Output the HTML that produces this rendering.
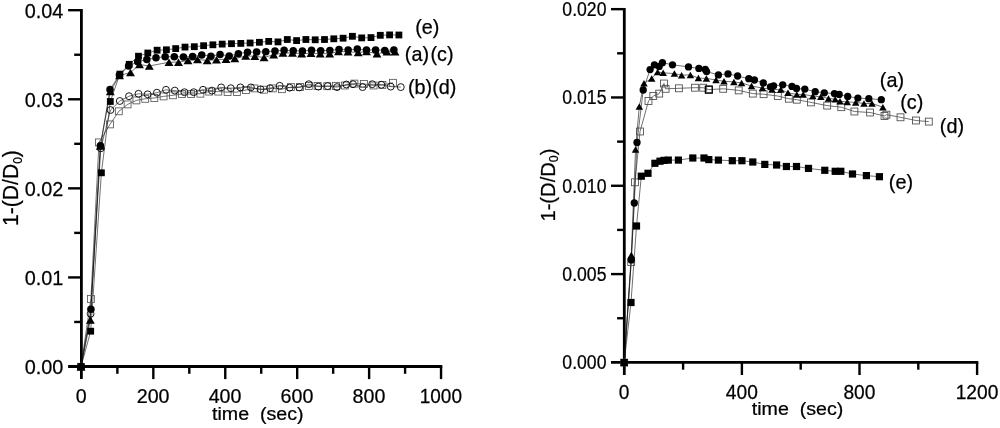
<!DOCTYPE html>
<html><head><meta charset="utf-8"><title>chart</title>
<style>html,body{margin:0;padding:0;background:#fff}svg{display:block}</style></head>
<body>
<svg width="1000" height="428" viewBox="0 0 1000 428" font-family="Liberation Sans, Arial, sans-serif" fill="#000">
<rect width="1000" height="428" fill="#fff"/>
<g stroke="#000" stroke-width="2.8" fill="none">
<path d="M81.4,9.00 V379.1"/>
<path d="M68.10,366.5 H442.3"/>
<path stroke-width="2.4" d="M117.37,366.5 v7.3"/>
<path stroke-width="2.4" d="M153.33,366.5 v12.6"/>
<path stroke-width="2.4" d="M189.30,366.5 v7.3"/>
<path stroke-width="2.4" d="M225.26,366.5 v12.6"/>
<path stroke-width="2.4" d="M261.23,366.5 v7.3"/>
<path stroke-width="2.4" d="M297.19,366.5 v12.6"/>
<path stroke-width="2.4" d="M333.16,366.5 v7.3"/>
<path stroke-width="2.4" d="M369.12,366.5 v12.6"/>
<path stroke-width="2.4" d="M405.09,366.5 v7.3"/>
<path stroke-width="2.4" d="M441.05,366.5 v12.6"/>
<path stroke-width="2.4" d="M81.4,321.96 h-7.2"/>
<path stroke-width="2.4" d="M81.4,277.43 h-13.3"/>
<path stroke-width="2.4" d="M81.4,232.89 h-7.2"/>
<path stroke-width="2.4" d="M81.4,188.35 h-13.3"/>
<path stroke-width="2.4" d="M81.4,143.81 h-7.2"/>
<path stroke-width="2.4" d="M81.4,99.28 h-13.3"/>
<path stroke-width="2.4" d="M81.4,54.74 h-7.2"/>
<path stroke-width="2.4" d="M81.4,10.20 h-13.3"/>
</g>
<g stroke="#000" stroke-width="2.8" fill="none">
<path d="M624.3,7.95 V375.0"/>
<path d="M611.0,362.4 H978.3"/>
<path stroke-width="2.4" d="M683.10,362.4 v7.3"/>
<path stroke-width="2.4" d="M741.90,362.4 v12.6"/>
<path stroke-width="2.4" d="M800.70,362.4 v7.3"/>
<path stroke-width="2.4" d="M859.50,362.4 v12.6"/>
<path stroke-width="2.4" d="M918.30,362.4 v7.3"/>
<path stroke-width="2.4" d="M977.10,362.4 v12.6"/>
<path stroke-width="2.4" d="M624.3,318.24 h-7.2"/>
<path stroke-width="2.4" d="M624.3,274.09 h-13.3"/>
<path stroke-width="2.4" d="M624.3,229.93 h-7.2"/>
<path stroke-width="2.4" d="M624.3,185.77 h-13.3"/>
<path stroke-width="2.4" d="M624.3,141.62 h-7.2"/>
<path stroke-width="2.4" d="M624.3,97.46 h-13.3"/>
<path stroke-width="2.4" d="M624.3,53.31 h-7.2"/>
<path stroke-width="2.4" d="M624.3,9.15 h-13.3"/>
</g>
<text transform="translate(63.30,373.90) scale(0.945,1)" font-size="21" text-anchor="end" stroke="#000" stroke-width="0.25" >0.00</text>
<text transform="translate(63.30,284.82) scale(0.945,1)" font-size="21" text-anchor="end" stroke="#000" stroke-width="0.25" >0.01</text>
<text transform="translate(63.30,195.75) scale(0.945,1)" font-size="21" text-anchor="end" stroke="#000" stroke-width="0.25" >0.02</text>
<text transform="translate(63.30,106.68) scale(0.945,1)" font-size="21" text-anchor="end" stroke="#000" stroke-width="0.25" >0.03</text>
<text transform="translate(63.30,17.60) scale(0.945,1)" font-size="21" text-anchor="end" stroke="#000" stroke-width="0.25" >0.04</text>
<text transform="translate(81.20,402.50) scale(0.936,1)" font-size="21" text-anchor="middle" stroke="#000" stroke-width="0.25" >0</text>
<text transform="translate(153.13,402.50) scale(0.936,1)" font-size="21" text-anchor="middle" stroke="#000" stroke-width="0.25" >200</text>
<text transform="translate(225.06,402.50) scale(0.936,1)" font-size="21" text-anchor="middle" stroke="#000" stroke-width="0.25" >400</text>
<text transform="translate(296.99,402.50) scale(0.936,1)" font-size="21" text-anchor="middle" stroke="#000" stroke-width="0.25" >600</text>
<text transform="translate(368.92,402.50) scale(0.936,1)" font-size="21" text-anchor="middle" stroke="#000" stroke-width="0.25" >800</text>
<text transform="translate(440.85,402.50) scale(0.905,1)" font-size="21" text-anchor="middle" stroke="#000" stroke-width="0.25" >1000</text>
<text transform="translate(606.50,369.40) scale(0.841,1)" font-size="21" text-anchor="end" stroke="#000" stroke-width="0.25" >0.000</text>
<text transform="translate(606.50,281.09) scale(0.841,1)" font-size="21" text-anchor="end" stroke="#000" stroke-width="0.25" >0.005</text>
<text transform="translate(606.50,192.77) scale(0.841,1)" font-size="21" text-anchor="end" stroke="#000" stroke-width="0.25" >0.010</text>
<text transform="translate(606.50,104.46) scale(0.841,1)" font-size="21" text-anchor="end" stroke="#000" stroke-width="0.25" >0.015</text>
<text transform="translate(606.50,16.15) scale(0.841,1)" font-size="21" text-anchor="end" stroke="#000" stroke-width="0.25" >0.020</text>
<text transform="translate(624.20,398.50) scale(0.914,1)" font-size="21" text-anchor="middle" stroke="#000" stroke-width="0.25" >0</text>
<text transform="translate(741.80,398.50) scale(0.914,1)" font-size="21" text-anchor="middle" stroke="#000" stroke-width="0.25" >400</text>
<text transform="translate(859.40,398.50) scale(0.914,1)" font-size="21" text-anchor="middle" stroke="#000" stroke-width="0.25" >800</text>
<text transform="translate(977.00,398.50) scale(0.914,1)" font-size="21" text-anchor="middle" stroke="#000" stroke-width="0.25" >1200</text>
<text transform="translate(212.00,420.20) scale(1.055,1)" font-size="18.6" text-anchor="start" stroke="#000" stroke-width="0.25" xml:space="preserve">time&#160;&#160;(sec)</text>
<text transform="translate(751.80,415.10) scale(1.055,1)" font-size="18.6" text-anchor="start" stroke="#000" stroke-width="0.25" xml:space="preserve">time&#160;&#160;(sec)</text>
<text transform="translate(18.30,226.00) rotate(-90) scale(0.96,1)" font-size="22" text-anchor="start" stroke="#000" stroke-width="0.25" >1-(D/D<tspan font-size="12.5" dy="3.5">0</tspan><tspan dy="-3.5">)</tspan></text>
<text transform="translate(554.80,221.60) rotate(-90)" font-size="20.2" text-anchor="start" stroke="#000" stroke-width="0.25" >1-(D/D<tspan font-size="12.5" dy="3.5">0</tspan><tspan dy="-3.5">)</tspan></text>
<path d="M81.0,366.8 L90.9,299.0 L99.0,142.4 L110.0,124.4 L118.8,111.3 L127.6,104.4 L136.4,100.4 L145.2,98.8 L154.3,98.0 L163.6,96.4 L172.9,95.3 L182.0,94.0 L191.1,94.0 L200.4,93.7 L209.2,91.6 L218.3,91.6 L227.6,92.1 L236.9,92.1 L246.0,90.0 L254.4,88.4 L264.0,89.7 L272.8,88.4 L281.9,89.2 L290.9,87.1 L300.0,87.0 L308.8,86.0 L317.6,86.0 L327.2,86.2 L336.0,86.0 L344.8,85.5 L354.4,83.6 L364.0,83.9 L373.6,85.5 L382.4,84.9 L393.0,82.8" fill="none" stroke="#111" stroke-width="0.6" stroke-linejoin="round"/>
<path d="M81.0,366.8 L90.6,313.8 L100.8,148.3 L110.5,110.0 L119.8,101.0 L129.0,96.2 L138.5,93.8 L147.6,94.3 L156.9,92.7 L166.0,89.8 L174.8,90.6 L184.4,92.2 L193.7,92.2 L203.0,89.8 L211.9,90.6 L221.2,87.4 L230.8,88.2 L240.4,87.4 L250.9,87.4 L260.5,89.3 L270.0,88.2 L279.7,85.8 L289.6,87.7 L299.2,87.4 L308.8,84.2 L318.4,86.6 L327.7,86.1 L337.0,87.1 L346.4,84.5 L353.0,84.2 L362.6,87.1 L372.2,84.2 L381.4,84.8 L390.7,86.6 L400.8,87.1" fill="none" stroke="#111" stroke-width="0.6" stroke-linejoin="round"/>
<path d="M81.0,366.8 L90.4,319.9 L100.3,146.0 L110.3,91.5 L119.5,75.6 L130.5,72.5 L139.5,64.5 L149.3,66.0 L169.0,62.2 L178.5,62.2 L188.0,60.5 L197.5,59.5 L207.2,60.4 L216.5,59.8 L226.0,59.2 L234.8,58.6 L245.7,56.0 L254.8,56.2 L264.0,57.5 L273.7,54.7 L283.0,53.0 L292.5,53.0 L301.7,53.7 L311.0,53.3 L320.2,53.7 L329.7,53.7 L338.5,51.5 L348.0,51.7 L358.2,52.5 L366.5,51.5 L377.0,53.7 L387.0,51.7 L395.0,51.7" fill="none" stroke="#111" stroke-width="0.6" stroke-linejoin="round"/>
<path d="M81.0,366.8 L90.9,309.3 L100.4,145.8 L110.0,89.5 L119.4,75.1 L128.6,66.1 L137.7,61.8 L146.8,59.4 L156.0,57.8 L165.2,56.7 L174.3,56.7 L183.4,57.0 L192.6,56.5 L201.8,54.9 L210.9,56.2 L220.1,54.6 L229.2,55.9 L238.4,53.8 L247.5,52.2 L256.6,52.0 L265.8,51.8 L274.9,51.0 L284.1,50.2 L293.2,50.7 L302.4,51.0 L311.6,50.2 L320.7,50.7 L329.9,50.4 L339.0,49.4 L348.2,49.9 L357.3,49.1 L366.5,49.9 L375.6,49.9 L384.8,50.4 L393.9,49.9" fill="none" stroke="#111" stroke-width="0.6" stroke-linejoin="round"/>
<path d="M81.0,366.8 L90.7,331.2 L101.4,172.8 L110.3,101.5 L119.9,74.1 L129.2,64.3 L138.5,56.2 L147.8,53.0 L157.1,50.2 L166.4,49.8 L175.7,48.6 L185.0,47.1 L194.3,46.7 L203.6,45.7 L212.9,44.8 L222.2,44.1 L231.5,43.7 L240.8,43.4 L250.1,43.0 L259.4,42.3 L268.7,41.4 L278.0,41.9 L287.3,39.5 L296.6,40.6 L305.9,39.5 L315.2,39.8 L324.5,39.5 L333.8,38.8 L343.1,38.2 L352.4,36.3 L361.7,37.9 L371.0,37.6 L380.3,35.3 L389.6,34.9 L398.9,35.0" fill="none" stroke="#111" stroke-width="0.6" stroke-linejoin="round"/>
<rect x="77.55" y="363.35" width="6.9" height="6.9" fill="none" stroke="#585858" stroke-width="0.85"/>
<rect x="87.45" y="295.55" width="6.9" height="6.9" fill="none" stroke="#585858" stroke-width="0.85"/>
<rect x="95.55" y="138.95" width="6.9" height="6.9" fill="none" stroke="#585858" stroke-width="0.85"/>
<rect x="106.55" y="120.95" width="6.9" height="6.9" fill="none" stroke="#585858" stroke-width="0.85"/>
<rect x="115.35" y="107.85" width="6.9" height="6.9" fill="none" stroke="#585858" stroke-width="0.85"/>
<rect x="124.15" y="100.95" width="6.9" height="6.9" fill="none" stroke="#585858" stroke-width="0.85"/>
<rect x="132.95" y="96.95" width="6.9" height="6.9" fill="none" stroke="#585858" stroke-width="0.85"/>
<rect x="141.75" y="95.35" width="6.9" height="6.9" fill="none" stroke="#585858" stroke-width="0.85"/>
<rect x="150.85" y="94.55" width="6.9" height="6.9" fill="none" stroke="#585858" stroke-width="0.85"/>
<rect x="160.15" y="92.95" width="6.9" height="6.9" fill="none" stroke="#585858" stroke-width="0.85"/>
<rect x="169.45" y="91.85" width="6.9" height="6.9" fill="none" stroke="#585858" stroke-width="0.85"/>
<rect x="178.55" y="90.55" width="6.9" height="6.9" fill="none" stroke="#585858" stroke-width="0.85"/>
<rect x="187.65" y="90.55" width="6.9" height="6.9" fill="none" stroke="#585858" stroke-width="0.85"/>
<rect x="196.95" y="90.25" width="6.9" height="6.9" fill="none" stroke="#585858" stroke-width="0.85"/>
<rect x="205.75" y="88.15" width="6.9" height="6.9" fill="none" stroke="#585858" stroke-width="0.85"/>
<rect x="214.85" y="88.15" width="6.9" height="6.9" fill="none" stroke="#585858" stroke-width="0.85"/>
<rect x="224.15" y="88.65" width="6.9" height="6.9" fill="none" stroke="#585858" stroke-width="0.85"/>
<rect x="233.45" y="88.65" width="6.9" height="6.9" fill="none" stroke="#585858" stroke-width="0.85"/>
<rect x="242.55" y="86.55" width="6.9" height="6.9" fill="none" stroke="#585858" stroke-width="0.85"/>
<rect x="250.95" y="84.95" width="6.9" height="6.9" fill="none" stroke="#585858" stroke-width="0.85"/>
<rect x="260.55" y="86.25" width="6.9" height="6.9" fill="none" stroke="#585858" stroke-width="0.85"/>
<rect x="269.35" y="84.95" width="6.9" height="6.9" fill="none" stroke="#585858" stroke-width="0.85"/>
<rect x="278.45" y="85.75" width="6.9" height="6.9" fill="none" stroke="#585858" stroke-width="0.85"/>
<rect x="287.45" y="83.65" width="6.9" height="6.9" fill="none" stroke="#585858" stroke-width="0.85"/>
<rect x="296.55" y="83.55" width="6.9" height="6.9" fill="none" stroke="#585858" stroke-width="0.85"/>
<rect x="305.35" y="82.55" width="6.9" height="6.9" fill="none" stroke="#585858" stroke-width="0.85"/>
<rect x="314.15" y="82.55" width="6.9" height="6.9" fill="none" stroke="#585858" stroke-width="0.85"/>
<rect x="323.75" y="82.75" width="6.9" height="6.9" fill="none" stroke="#585858" stroke-width="0.85"/>
<rect x="332.55" y="82.55" width="6.9" height="6.9" fill="none" stroke="#585858" stroke-width="0.85"/>
<rect x="341.35" y="82.05" width="6.9" height="6.9" fill="none" stroke="#585858" stroke-width="0.85"/>
<rect x="350.95" y="80.15" width="6.9" height="6.9" fill="none" stroke="#585858" stroke-width="0.85"/>
<rect x="360.55" y="80.45" width="6.9" height="6.9" fill="none" stroke="#585858" stroke-width="0.85"/>
<rect x="370.15" y="82.05" width="6.9" height="6.9" fill="none" stroke="#585858" stroke-width="0.85"/>
<rect x="378.95" y="81.45" width="6.9" height="6.9" fill="none" stroke="#585858" stroke-width="0.85"/>
<rect x="389.55" y="79.35" width="6.9" height="6.9" fill="none" stroke="#585858" stroke-width="0.85"/>
<circle cx="81.00" cy="366.80" r="3.45" fill="none" stroke="#000" stroke-width="0.9"/>
<circle cx="90.60" cy="313.80" r="3.45" fill="none" stroke="#000" stroke-width="0.9"/>
<circle cx="100.80" cy="148.30" r="3.45" fill="none" stroke="#000" stroke-width="0.9"/>
<circle cx="110.50" cy="110.00" r="3.45" fill="none" stroke="#000" stroke-width="0.9"/>
<circle cx="119.80" cy="101.00" r="3.45" fill="none" stroke="#000" stroke-width="0.9"/>
<circle cx="129.00" cy="96.20" r="3.45" fill="none" stroke="#000" stroke-width="0.9"/>
<circle cx="138.50" cy="93.80" r="3.45" fill="none" stroke="#000" stroke-width="0.9"/>
<circle cx="147.60" cy="94.30" r="3.45" fill="none" stroke="#000" stroke-width="0.9"/>
<circle cx="156.90" cy="92.70" r="3.45" fill="none" stroke="#000" stroke-width="0.9"/>
<circle cx="166.00" cy="89.80" r="3.45" fill="none" stroke="#000" stroke-width="0.9"/>
<circle cx="174.80" cy="90.60" r="3.45" fill="none" stroke="#000" stroke-width="0.9"/>
<circle cx="184.40" cy="92.20" r="3.45" fill="none" stroke="#000" stroke-width="0.9"/>
<circle cx="193.70" cy="92.20" r="3.45" fill="none" stroke="#000" stroke-width="0.9"/>
<circle cx="203.00" cy="89.80" r="3.45" fill="none" stroke="#000" stroke-width="0.9"/>
<circle cx="211.90" cy="90.60" r="3.45" fill="none" stroke="#000" stroke-width="0.9"/>
<circle cx="221.20" cy="87.40" r="3.45" fill="none" stroke="#000" stroke-width="0.9"/>
<circle cx="230.80" cy="88.20" r="3.45" fill="none" stroke="#000" stroke-width="0.9"/>
<circle cx="240.40" cy="87.40" r="3.45" fill="none" stroke="#000" stroke-width="0.9"/>
<circle cx="250.90" cy="87.40" r="3.45" fill="none" stroke="#000" stroke-width="0.9"/>
<circle cx="260.50" cy="89.30" r="3.45" fill="none" stroke="#000" stroke-width="0.9"/>
<circle cx="270.00" cy="88.20" r="3.45" fill="none" stroke="#000" stroke-width="0.9"/>
<circle cx="279.70" cy="85.80" r="3.45" fill="none" stroke="#000" stroke-width="0.9"/>
<circle cx="289.60" cy="87.70" r="3.45" fill="none" stroke="#000" stroke-width="0.9"/>
<circle cx="299.20" cy="87.40" r="3.45" fill="none" stroke="#000" stroke-width="0.9"/>
<circle cx="308.80" cy="84.20" r="3.45" fill="none" stroke="#000" stroke-width="0.9"/>
<circle cx="318.40" cy="86.60" r="3.45" fill="none" stroke="#000" stroke-width="0.9"/>
<circle cx="327.70" cy="86.10" r="3.45" fill="none" stroke="#000" stroke-width="0.9"/>
<circle cx="337.00" cy="87.10" r="3.45" fill="none" stroke="#000" stroke-width="0.9"/>
<circle cx="346.40" cy="84.50" r="3.45" fill="none" stroke="#000" stroke-width="0.9"/>
<circle cx="353.00" cy="84.20" r="3.45" fill="none" stroke="#000" stroke-width="0.9"/>
<circle cx="362.60" cy="87.10" r="3.45" fill="none" stroke="#000" stroke-width="0.9"/>
<circle cx="372.20" cy="84.20" r="3.45" fill="none" stroke="#000" stroke-width="0.9"/>
<circle cx="381.40" cy="84.80" r="3.45" fill="none" stroke="#000" stroke-width="0.9"/>
<circle cx="390.70" cy="86.60" r="3.45" fill="none" stroke="#000" stroke-width="0.9"/>
<circle cx="400.80" cy="87.10" r="3.45" fill="none" stroke="#000" stroke-width="0.9"/>
<path d="M81.00,363.05 L85.45,370.55 L76.55,370.55Z" fill="#000"/>
<path d="M90.40,316.15 L94.85,323.65 L85.95,323.65Z" fill="#000"/>
<path d="M100.30,142.25 L104.75,149.75 L95.85,149.75Z" fill="#000"/>
<path d="M110.30,87.75 L114.75,95.25 L105.85,95.25Z" fill="#000"/>
<path d="M119.50,71.85 L123.95,79.35 L115.05,79.35Z" fill="#000"/>
<path d="M130.50,68.75 L134.95,76.25 L126.05,76.25Z" fill="#000"/>
<path d="M139.50,60.75 L143.95,68.25 L135.05,68.25Z" fill="#000"/>
<path d="M149.30,62.25 L153.75,69.75 L144.85,69.75Z" fill="#000"/>
<path d="M169.00,58.45 L173.45,65.95 L164.55,65.95Z" fill="#000"/>
<path d="M178.50,58.45 L182.95,65.95 L174.05,65.95Z" fill="#000"/>
<path d="M188.00,56.75 L192.45,64.25 L183.55,64.25Z" fill="#000"/>
<path d="M197.50,55.75 L201.95,63.25 L193.05,63.25Z" fill="#000"/>
<path d="M207.20,56.65 L211.65,64.15 L202.75,64.15Z" fill="#000"/>
<path d="M216.50,56.05 L220.95,63.55 L212.05,63.55Z" fill="#000"/>
<path d="M226.00,55.45 L230.45,62.95 L221.55,62.95Z" fill="#000"/>
<path d="M234.80,54.85 L239.25,62.35 L230.35,62.35Z" fill="#000"/>
<path d="M245.70,52.25 L250.15,59.75 L241.25,59.75Z" fill="#000"/>
<path d="M254.80,52.45 L259.25,59.95 L250.35,59.95Z" fill="#000"/>
<path d="M264.00,53.75 L268.45,61.25 L259.55,61.25Z" fill="#000"/>
<path d="M273.70,50.95 L278.15,58.45 L269.25,58.45Z" fill="#000"/>
<path d="M283.00,49.25 L287.45,56.75 L278.55,56.75Z" fill="#000"/>
<path d="M292.50,49.25 L296.95,56.75 L288.05,56.75Z" fill="#000"/>
<path d="M301.70,49.95 L306.15,57.45 L297.25,57.45Z" fill="#000"/>
<path d="M311.00,49.55 L315.45,57.05 L306.55,57.05Z" fill="#000"/>
<path d="M320.20,49.95 L324.65,57.45 L315.75,57.45Z" fill="#000"/>
<path d="M329.70,49.95 L334.15,57.45 L325.25,57.45Z" fill="#000"/>
<path d="M338.50,47.75 L342.95,55.25 L334.05,55.25Z" fill="#000"/>
<path d="M348.00,47.95 L352.45,55.45 L343.55,55.45Z" fill="#000"/>
<path d="M358.20,48.75 L362.65,56.25 L353.75,56.25Z" fill="#000"/>
<path d="M366.50,47.75 L370.95,55.25 L362.05,55.25Z" fill="#000"/>
<path d="M377.00,49.95 L381.45,57.45 L372.55,57.45Z" fill="#000"/>
<path d="M387.00,47.95 L391.45,55.45 L382.55,55.45Z" fill="#000"/>
<path d="M395.00,47.95 L399.45,55.45 L390.55,55.45Z" fill="#000"/>
<circle cx="81.00" cy="366.80" r="3.75" fill="#000"/>
<circle cx="90.90" cy="309.30" r="3.75" fill="#000"/>
<circle cx="100.40" cy="145.80" r="3.75" fill="#000"/>
<circle cx="110.00" cy="89.50" r="3.75" fill="#000"/>
<circle cx="119.40" cy="75.10" r="3.75" fill="#000"/>
<circle cx="128.55" cy="66.10" r="3.75" fill="#000"/>
<circle cx="137.70" cy="61.80" r="3.75" fill="#000"/>
<circle cx="146.85" cy="59.40" r="3.75" fill="#000"/>
<circle cx="156.00" cy="57.80" r="3.75" fill="#000"/>
<circle cx="165.15" cy="56.70" r="3.75" fill="#000"/>
<circle cx="174.30" cy="56.70" r="3.75" fill="#000"/>
<circle cx="183.45" cy="57.00" r="3.75" fill="#000"/>
<circle cx="192.60" cy="56.50" r="3.75" fill="#000"/>
<circle cx="201.75" cy="54.90" r="3.75" fill="#000"/>
<circle cx="210.90" cy="56.20" r="3.75" fill="#000"/>
<circle cx="220.05" cy="54.60" r="3.75" fill="#000"/>
<circle cx="229.20" cy="55.90" r="3.75" fill="#000"/>
<circle cx="238.35" cy="53.80" r="3.75" fill="#000"/>
<circle cx="247.50" cy="52.20" r="3.75" fill="#000"/>
<circle cx="256.65" cy="52.00" r="3.75" fill="#000"/>
<circle cx="265.80" cy="51.80" r="3.75" fill="#000"/>
<circle cx="274.95" cy="51.00" r="3.75" fill="#000"/>
<circle cx="284.10" cy="50.20" r="3.75" fill="#000"/>
<circle cx="293.25" cy="50.70" r="3.75" fill="#000"/>
<circle cx="302.40" cy="51.00" r="3.75" fill="#000"/>
<circle cx="311.55" cy="50.20" r="3.75" fill="#000"/>
<circle cx="320.70" cy="50.70" r="3.75" fill="#000"/>
<circle cx="329.85" cy="50.40" r="3.75" fill="#000"/>
<circle cx="339.00" cy="49.40" r="3.75" fill="#000"/>
<circle cx="348.15" cy="49.90" r="3.75" fill="#000"/>
<circle cx="357.30" cy="49.10" r="3.75" fill="#000"/>
<circle cx="366.45" cy="49.90" r="3.75" fill="#000"/>
<circle cx="375.60" cy="49.90" r="3.75" fill="#000"/>
<circle cx="384.75" cy="50.40" r="3.75" fill="#000"/>
<circle cx="393.90" cy="49.90" r="3.75" fill="#000"/>
<rect x="77.60" y="363.40" width="6.8" height="6.8" fill="#000"/>
<rect x="87.30" y="327.80" width="6.8" height="6.8" fill="#000"/>
<rect x="98.00" y="169.40" width="6.8" height="6.8" fill="#000"/>
<rect x="106.90" y="98.10" width="6.8" height="6.8" fill="#000"/>
<rect x="116.50" y="70.70" width="6.8" height="6.8" fill="#000"/>
<rect x="125.80" y="60.90" width="6.8" height="6.8" fill="#000"/>
<rect x="135.10" y="52.80" width="6.8" height="6.8" fill="#000"/>
<rect x="144.40" y="49.60" width="6.8" height="6.8" fill="#000"/>
<rect x="153.70" y="46.80" width="6.8" height="6.8" fill="#000"/>
<rect x="163.00" y="46.40" width="6.8" height="6.8" fill="#000"/>
<rect x="172.30" y="45.20" width="6.8" height="6.8" fill="#000"/>
<rect x="181.60" y="43.70" width="6.8" height="6.8" fill="#000"/>
<rect x="190.90" y="43.30" width="6.8" height="6.8" fill="#000"/>
<rect x="200.20" y="42.30" width="6.8" height="6.8" fill="#000"/>
<rect x="209.50" y="41.40" width="6.8" height="6.8" fill="#000"/>
<rect x="218.80" y="40.70" width="6.8" height="6.8" fill="#000"/>
<rect x="228.10" y="40.30" width="6.8" height="6.8" fill="#000"/>
<rect x="237.40" y="40.00" width="6.8" height="6.8" fill="#000"/>
<rect x="246.70" y="39.60" width="6.8" height="6.8" fill="#000"/>
<rect x="256.00" y="38.90" width="6.8" height="6.8" fill="#000"/>
<rect x="265.30" y="38.00" width="6.8" height="6.8" fill="#000"/>
<rect x="274.60" y="38.50" width="6.8" height="6.8" fill="#000"/>
<rect x="283.90" y="36.10" width="6.8" height="6.8" fill="#000"/>
<rect x="293.20" y="37.20" width="6.8" height="6.8" fill="#000"/>
<rect x="302.50" y="36.10" width="6.8" height="6.8" fill="#000"/>
<rect x="311.80" y="36.40" width="6.8" height="6.8" fill="#000"/>
<rect x="321.10" y="36.10" width="6.8" height="6.8" fill="#000"/>
<rect x="330.40" y="35.40" width="6.8" height="6.8" fill="#000"/>
<rect x="339.70" y="34.80" width="6.8" height="6.8" fill="#000"/>
<rect x="349.00" y="32.90" width="6.8" height="6.8" fill="#000"/>
<rect x="358.30" y="34.50" width="6.8" height="6.8" fill="#000"/>
<rect x="367.60" y="34.20" width="6.8" height="6.8" fill="#000"/>
<rect x="376.90" y="31.90" width="6.8" height="6.8" fill="#000"/>
<rect x="386.20" y="31.50" width="6.8" height="6.8" fill="#000"/>
<rect x="395.50" y="31.60" width="6.8" height="6.8" fill="#000"/>
<path d="M624.2,362.6 L631.2,262.0 L635.0,182.3 L640.0,131.5 L648.5,101.0 L653.3,96.0 L659.2,93.6 L664.0,83.5 L665.6,88.8 L678.9,88.3 L694.9,87.7 L703.2,87.7 L708.8,89.6 L708.8,89.6 L723.2,88.8 L738.7,90.4 L752.8,93.6 L763.6,94.2 L777.8,96.0 L788.8,98.7 L796.8,99.7 L810.9,102.4 L827.2,105.6 L841.3,107.2 L854.4,111.5 L870.1,112.5 L884.5,116.0 L886.4,114.7 L900.5,117.3 L916.0,120.5 L928.8,121.6" fill="none" stroke="#111" stroke-width="0.6" stroke-linejoin="round"/>
<path d="M624.2,362.6 L631.3,255.0 L635.5,149.5 L639.3,106.4 L644.0,83.2 L651.7,78.4 L657.6,72.0 L663.2,72.8 L674.4,73.6 L681.6,75.2 L690.4,74.9 L698.4,78.1 L706.4,78.4 L716.0,80.0 L724.0,81.3 L733.9,81.9 L741.6,82.9 L751.5,86.1 L762.4,88.0 L772.0,89.5 L780.8,89.6 L788.0,92.8 L796.8,94.4 L803.2,94.4 L812.8,96.0 L820.8,96.8 L828.5,98.4 L835.2,99.2 L840.0,101.3 L847.2,101.9 L855.7,102.4 L864.0,103.5 L872.0,103.5 L882.9,107.2" fill="none" stroke="#111" stroke-width="0.6" stroke-linejoin="round"/>
<path d="M624.2,362.6 L631.3,259.9 L634.3,203.0 L637.0,142.4 L643.2,90.0 L650.1,69.6 L654.4,64.8 L659.2,66.4 L662.4,62.7 L672.5,64.8 L688.5,66.9 L698.9,68.4 L705.3,69.4 L706.6,71.6 L718.4,74.9 L728.0,73.9 L737.6,76.0 L748.8,78.7 L754.4,80.0 L763.3,83.0 L770.4,86.8 L773.6,85.8 L782.7,84.8 L792.0,86.4 L796.5,88.5 L804.8,89.1 L815.2,91.7 L824.3,92.8 L834.4,93.6 L839.2,94.4 L847.7,96.5 L857.9,98.1 L868.8,98.7 L881.3,99.7" fill="none" stroke="#111" stroke-width="0.6" stroke-linejoin="round"/>
<path d="M624.2,362.6 L631.0,302.5 L636.5,226.0 L641.3,176.2 L648.0,173.3 L654.9,163.3 L660.0,161.2 L664.0,160.4 L668.3,160.1 L678.4,160.1 L692.8,158.0 L704.0,158.0 L708.8,159.6 L718.4,160.1 L732.3,160.7 L741.9,160.7 L752.8,162.0 L764.8,164.4 L776.6,165.0 L786.4,166.5 L796.5,166.5 L808.5,168.4 L824.8,170.3 L835.2,171.3 L840.8,171.3 L852.5,174.0 L866.4,175.6 L879.4,176.7" fill="none" stroke="#111" stroke-width="0.6" stroke-linejoin="round"/>
<rect x="620.75" y="359.15" width="6.9" height="6.9" fill="none" stroke="#4a4a4a" stroke-width="0.85"/>
<rect x="627.75" y="258.55" width="6.9" height="6.9" fill="none" stroke="#4a4a4a" stroke-width="0.85"/>
<rect x="631.55" y="178.85" width="6.9" height="6.9" fill="none" stroke="#4a4a4a" stroke-width="0.85"/>
<rect x="636.55" y="128.05" width="6.9" height="6.9" fill="none" stroke="#4a4a4a" stroke-width="0.85"/>
<rect x="645.05" y="97.55" width="6.9" height="6.9" fill="none" stroke="#4a4a4a" stroke-width="0.85"/>
<rect x="649.85" y="92.55" width="6.9" height="6.9" fill="none" stroke="#4a4a4a" stroke-width="0.85"/>
<rect x="655.75" y="90.15" width="6.9" height="6.9" fill="none" stroke="#4a4a4a" stroke-width="0.85"/>
<rect x="660.55" y="80.05" width="6.9" height="6.9" fill="none" stroke="#4a4a4a" stroke-width="0.85"/>
<rect x="662.15" y="85.35" width="6.9" height="6.9" fill="none" stroke="#4a4a4a" stroke-width="0.85"/>
<rect x="675.45" y="84.85" width="6.9" height="6.9" fill="none" stroke="#4a4a4a" stroke-width="0.85"/>
<rect x="691.45" y="84.25" width="6.9" height="6.9" fill="none" stroke="#4a4a4a" stroke-width="0.85"/>
<rect x="699.75" y="84.25" width="6.9" height="6.9" fill="none" stroke="#4a4a4a" stroke-width="0.85"/>
<rect x="705.35" y="86.15" width="6.9" height="6.9" fill="none" stroke="#4a4a4a" stroke-width="0.85"/>
<rect x="705.35" y="86.15" width="6.9" height="6.9" fill="none" stroke="#4a4a4a" stroke-width="0.85"/>
<rect x="719.75" y="85.35" width="6.9" height="6.9" fill="none" stroke="#4a4a4a" stroke-width="0.85"/>
<rect x="735.25" y="86.95" width="6.9" height="6.9" fill="none" stroke="#4a4a4a" stroke-width="0.85"/>
<rect x="749.35" y="90.15" width="6.9" height="6.9" fill="none" stroke="#4a4a4a" stroke-width="0.85"/>
<rect x="760.15" y="90.75" width="6.9" height="6.9" fill="none" stroke="#4a4a4a" stroke-width="0.85"/>
<rect x="774.35" y="92.55" width="6.9" height="6.9" fill="none" stroke="#4a4a4a" stroke-width="0.85"/>
<rect x="785.35" y="95.25" width="6.9" height="6.9" fill="none" stroke="#4a4a4a" stroke-width="0.85"/>
<rect x="793.35" y="96.25" width="6.9" height="6.9" fill="none" stroke="#4a4a4a" stroke-width="0.85"/>
<rect x="807.45" y="98.95" width="6.9" height="6.9" fill="none" stroke="#4a4a4a" stroke-width="0.85"/>
<rect x="823.75" y="102.15" width="6.9" height="6.9" fill="none" stroke="#4a4a4a" stroke-width="0.85"/>
<rect x="837.85" y="103.75" width="6.9" height="6.9" fill="none" stroke="#4a4a4a" stroke-width="0.85"/>
<rect x="850.95" y="108.05" width="6.9" height="6.9" fill="none" stroke="#4a4a4a" stroke-width="0.85"/>
<rect x="866.65" y="109.05" width="6.9" height="6.9" fill="none" stroke="#4a4a4a" stroke-width="0.85"/>
<rect x="881.05" y="112.55" width="6.9" height="6.9" fill="none" stroke="#4a4a4a" stroke-width="0.85"/>
<rect x="882.95" y="111.25" width="6.9" height="6.9" fill="none" stroke="#4a4a4a" stroke-width="0.85"/>
<rect x="897.05" y="113.85" width="6.9" height="6.9" fill="none" stroke="#4a4a4a" stroke-width="0.85"/>
<rect x="912.55" y="117.05" width="6.9" height="6.9" fill="none" stroke="#4a4a4a" stroke-width="0.85"/>
<rect x="925.35" y="118.15" width="6.9" height="6.9" fill="none" stroke="#4a4a4a" stroke-width="0.85"/>
<rect x="705.35" y="86.15" width="6.9" height="6.9" fill="none" stroke="#000" stroke-width="1.1"/>
<path d="M624.20,359.35 L627.95,365.85 L620.45,365.85Z" fill="#000"/>
<path d="M631.30,251.75 L635.05,258.25 L627.55,258.25Z" fill="#000"/>
<path d="M635.50,146.25 L639.25,152.75 L631.75,152.75Z" fill="#000"/>
<path d="M639.30,103.15 L643.05,109.65 L635.55,109.65Z" fill="#000"/>
<path d="M644.00,79.95 L647.75,86.45 L640.25,86.45Z" fill="#000"/>
<path d="M651.70,75.15 L655.45,81.65 L647.95,81.65Z" fill="#000"/>
<path d="M657.60,68.75 L661.35,75.25 L653.85,75.25Z" fill="#000"/>
<path d="M663.20,69.55 L666.95,76.05 L659.45,76.05Z" fill="#000"/>
<path d="M674.40,70.35 L678.15,76.85 L670.65,76.85Z" fill="#000"/>
<path d="M681.60,71.95 L685.35,78.45 L677.85,78.45Z" fill="#000"/>
<path d="M690.40,71.65 L694.15,78.15 L686.65,78.15Z" fill="#000"/>
<path d="M698.40,74.85 L702.15,81.35 L694.65,81.35Z" fill="#000"/>
<path d="M706.40,75.15 L710.15,81.65 L702.65,81.65Z" fill="#000"/>
<path d="M716.00,76.75 L719.75,83.25 L712.25,83.25Z" fill="#000"/>
<path d="M724.00,78.05 L727.75,84.55 L720.25,84.55Z" fill="#000"/>
<path d="M733.90,78.65 L737.65,85.15 L730.15,85.15Z" fill="#000"/>
<path d="M741.60,79.65 L745.35,86.15 L737.85,86.15Z" fill="#000"/>
<path d="M751.50,82.85 L755.25,89.35 L747.75,89.35Z" fill="#000"/>
<path d="M762.40,84.75 L766.15,91.25 L758.65,91.25Z" fill="#000"/>
<path d="M772.00,86.25 L775.75,92.75 L768.25,92.75Z" fill="#000"/>
<path d="M780.80,86.35 L784.55,92.85 L777.05,92.85Z" fill="#000"/>
<path d="M788.00,89.55 L791.75,96.05 L784.25,96.05Z" fill="#000"/>
<path d="M796.80,91.15 L800.55,97.65 L793.05,97.65Z" fill="#000"/>
<path d="M803.20,91.15 L806.95,97.65 L799.45,97.65Z" fill="#000"/>
<path d="M812.80,92.75 L816.55,99.25 L809.05,99.25Z" fill="#000"/>
<path d="M820.80,93.55 L824.55,100.05 L817.05,100.05Z" fill="#000"/>
<path d="M828.50,95.15 L832.25,101.65 L824.75,101.65Z" fill="#000"/>
<path d="M835.20,95.95 L838.95,102.45 L831.45,102.45Z" fill="#000"/>
<path d="M840.00,98.05 L843.75,104.55 L836.25,104.55Z" fill="#000"/>
<path d="M847.20,98.65 L850.95,105.15 L843.45,105.15Z" fill="#000"/>
<path d="M855.70,99.15 L859.45,105.65 L851.95,105.65Z" fill="#000"/>
<path d="M864.00,100.25 L867.75,106.75 L860.25,106.75Z" fill="#000"/>
<path d="M872.00,100.25 L875.75,106.75 L868.25,106.75Z" fill="#000"/>
<path d="M882.90,103.95 L886.65,110.45 L879.15,110.45Z" fill="#000"/>
<circle cx="624.20" cy="362.60" r="3.65" fill="#000"/>
<circle cx="631.30" cy="259.90" r="3.65" fill="#000"/>
<circle cx="634.30" cy="203.00" r="3.65" fill="#000"/>
<circle cx="637.00" cy="142.40" r="3.65" fill="#000"/>
<circle cx="643.20" cy="90.00" r="3.65" fill="#000"/>
<circle cx="650.10" cy="69.60" r="3.65" fill="#000"/>
<circle cx="654.40" cy="64.80" r="3.65" fill="#000"/>
<circle cx="659.20" cy="66.40" r="3.65" fill="#000"/>
<circle cx="662.40" cy="62.70" r="3.65" fill="#000"/>
<circle cx="672.50" cy="64.80" r="3.65" fill="#000"/>
<circle cx="688.50" cy="66.90" r="3.65" fill="#000"/>
<circle cx="698.90" cy="68.40" r="3.65" fill="#000"/>
<circle cx="705.30" cy="69.40" r="3.65" fill="#000"/>
<circle cx="706.60" cy="71.60" r="3.65" fill="#000"/>
<circle cx="718.40" cy="74.90" r="3.65" fill="#000"/>
<circle cx="728.00" cy="73.90" r="3.65" fill="#000"/>
<circle cx="737.60" cy="76.00" r="3.65" fill="#000"/>
<circle cx="748.80" cy="78.70" r="3.65" fill="#000"/>
<circle cx="754.40" cy="80.00" r="3.65" fill="#000"/>
<circle cx="763.30" cy="83.00" r="3.65" fill="#000"/>
<circle cx="770.40" cy="86.80" r="3.65" fill="#000"/>
<circle cx="773.60" cy="85.80" r="3.65" fill="#000"/>
<circle cx="782.70" cy="84.80" r="3.65" fill="#000"/>
<circle cx="792.00" cy="86.40" r="3.65" fill="#000"/>
<circle cx="796.50" cy="88.50" r="3.65" fill="#000"/>
<circle cx="804.80" cy="89.10" r="3.65" fill="#000"/>
<circle cx="815.20" cy="91.70" r="3.65" fill="#000"/>
<circle cx="824.30" cy="92.80" r="3.65" fill="#000"/>
<circle cx="834.40" cy="93.60" r="3.65" fill="#000"/>
<circle cx="839.20" cy="94.40" r="3.65" fill="#000"/>
<circle cx="847.70" cy="96.50" r="3.65" fill="#000"/>
<circle cx="857.90" cy="98.10" r="3.65" fill="#000"/>
<circle cx="868.80" cy="98.70" r="3.65" fill="#000"/>
<circle cx="881.30" cy="99.70" r="3.65" fill="#000"/>
<rect x="620.60" y="359.00" width="7.2" height="7.2" fill="#000"/>
<rect x="627.40" y="298.90" width="7.2" height="7.2" fill="#000"/>
<rect x="632.90" y="222.40" width="7.2" height="7.2" fill="#000"/>
<rect x="637.70" y="172.60" width="7.2" height="7.2" fill="#000"/>
<rect x="644.40" y="169.70" width="7.2" height="7.2" fill="#000"/>
<rect x="651.30" y="159.70" width="7.2" height="7.2" fill="#000"/>
<rect x="656.40" y="157.60" width="7.2" height="7.2" fill="#000"/>
<rect x="660.40" y="156.80" width="7.2" height="7.2" fill="#000"/>
<rect x="664.70" y="156.50" width="7.2" height="7.2" fill="#000"/>
<rect x="674.80" y="156.50" width="7.2" height="7.2" fill="#000"/>
<rect x="689.20" y="154.40" width="7.2" height="7.2" fill="#000"/>
<rect x="700.40" y="154.40" width="7.2" height="7.2" fill="#000"/>
<rect x="705.20" y="156.00" width="7.2" height="7.2" fill="#000"/>
<rect x="714.80" y="156.50" width="7.2" height="7.2" fill="#000"/>
<rect x="728.70" y="157.10" width="7.2" height="7.2" fill="#000"/>
<rect x="738.30" y="157.10" width="7.2" height="7.2" fill="#000"/>
<rect x="749.20" y="158.40" width="7.2" height="7.2" fill="#000"/>
<rect x="761.20" y="160.80" width="7.2" height="7.2" fill="#000"/>
<rect x="773.00" y="161.40" width="7.2" height="7.2" fill="#000"/>
<rect x="782.80" y="162.90" width="7.2" height="7.2" fill="#000"/>
<rect x="792.90" y="162.90" width="7.2" height="7.2" fill="#000"/>
<rect x="804.90" y="164.80" width="7.2" height="7.2" fill="#000"/>
<rect x="821.20" y="166.70" width="7.2" height="7.2" fill="#000"/>
<rect x="831.60" y="167.70" width="7.2" height="7.2" fill="#000"/>
<rect x="837.20" y="167.70" width="7.2" height="7.2" fill="#000"/>
<rect x="848.90" y="170.40" width="7.2" height="7.2" fill="#000"/>
<rect x="862.80" y="172.00" width="7.2" height="7.2" fill="#000"/>
<rect x="875.80" y="173.10" width="7.2" height="7.2" fill="#000"/>
<text transform="translate(415.20,34.30)" font-size="19.8" text-anchor="start" stroke="#000" stroke-width="0.25" >(e)</text>
<text transform="translate(404.80,61.10)" font-size="19.8" text-anchor="start" stroke="#000" stroke-width="0.25" >(a)</text>
<text transform="translate(430.40,61.10)" font-size="19.8" text-anchor="start" stroke="#000" stroke-width="0.25" >(c)</text>
<text transform="translate(408.00,93.50)" font-size="19.8" text-anchor="start" stroke="#000" stroke-width="0.25" >(b)(d)</text>
<text transform="translate(879.80,87.10)" font-size="19.8" text-anchor="start" stroke="#000" stroke-width="0.25" >(a)</text>
<text transform="translate(900.20,108.60)" font-size="19.8" text-anchor="start" stroke="#000" stroke-width="0.25" >(c)</text>
<text transform="translate(939.80,132.70)" font-size="19.8" text-anchor="start" stroke="#000" stroke-width="0.25" >(d)</text>
<text transform="translate(888.80,188.90)" font-size="19.8" text-anchor="start" stroke="#000" stroke-width="0.25" >(e)</text>
</svg>
</body></html>
